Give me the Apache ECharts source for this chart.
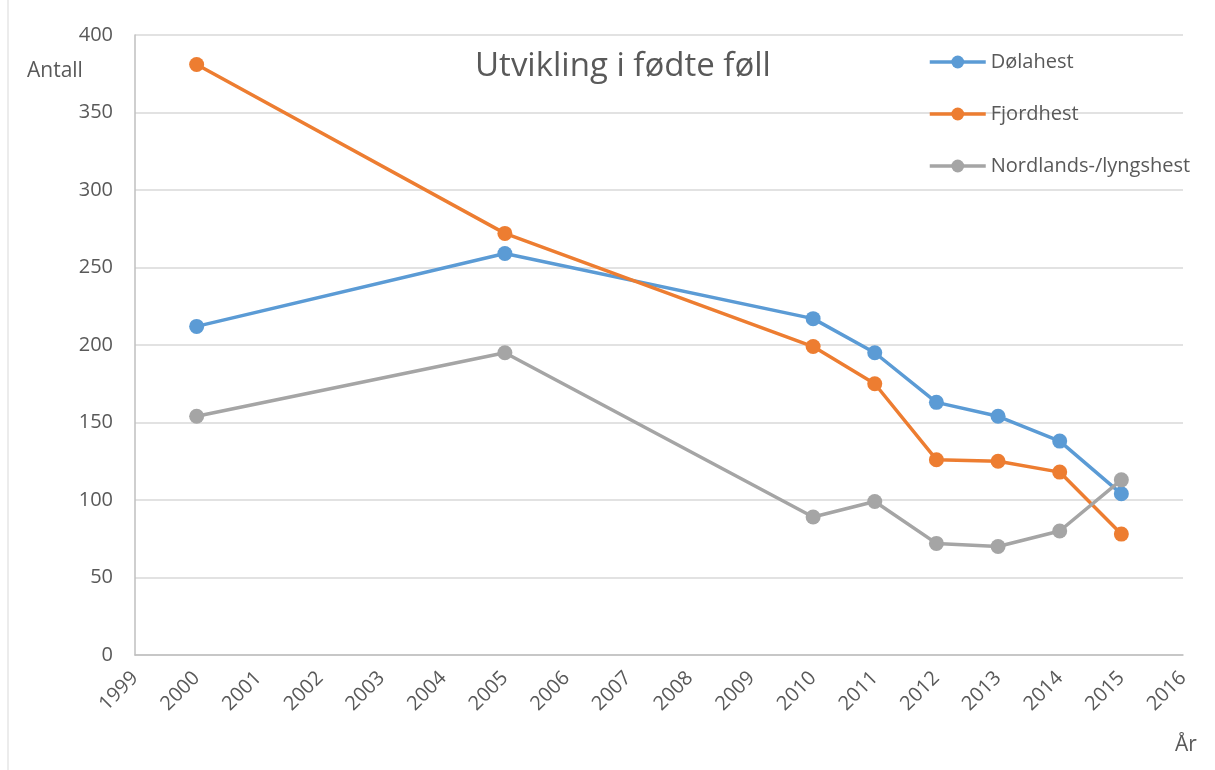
<!DOCTYPE html>
<html>
<head>
<meta charset="utf-8">
<script src="https://cdn.jsdelivr.net/npm/echarts@6/dist/echarts.min.js"></script>
<style>
  html, body { margin: 0; padding: 0; background: #fff; }
  #chart { width: 1215px; height: 770px; }
</style>
</head>
<body>
<div id="chart"></div>
<script>
const years = [2000, 2005, 2010, 2011, 2012, 2013, 2014, 2015];
const dolahest = [212, 259, 217, 195, 163, 154, 138, 104];
const fjordhest = [381, 272, 199, 175, 126, 125, 118, 78];
const nordlands = [154, 195, 89, 99, 72, 70, 80, 113];

const textColor = '#595959';
const font = 'Open Sans, Noto Sans, sans-serif';

const chart = echarts.init(document.getElementById('chart'));

const mkSeries = (name, vals, color) => ({
  name: name,
  type: 'line',
  data: years.map((y, i) => [y, vals[i]]),
  symbol: 'circle',
  symbolSize: 15,
  lineStyle: { color: color, width: 3.5 },
  itemStyle: { color: color },
  emphasis: { disabled: true }
});

chart.setOption({
  animation: false,
  title: {
    text: 'Utvikling i fødte føll',
    left: 618,
    top: 45,
    textAlign: 'center',
    textStyle: { color: textColor, fontSize: 33, fontWeight: 'normal', fontFamily: font }
  },
  legend: {
    orient: 'vertical',
    left: 923,
    top: 47,
    itemGap: 32,
    itemWidth: 56,
    itemHeight: 16,
    lineStyle: { width: 3.5 },
    textStyle: { color: textColor, fontSize: 20, fontFamily: font },
    data: ['Dølahest', 'Fjordhest', 'Nordlands-/lyngshest']
  },
  grid: { left: 135, right: 32, top: 35, bottom: 115, containLabel: false },
  xAxis: {
    type: 'value',
    min: 1999,
    max: 2016,
    interval: 1,
    axisLine: { lineStyle: { color: '#bfbfbf', width: 1.5 } },
    axisTick: { show: false },
    splitLine: { show: false },
    axisLabel: {
      rotate: 45,
      margin: 20,
      color: textColor,
      fontSize: 20,
      fontFamily: font,
      formatter: v => String(v)
    }
  },
  yAxis: {
    type: 'value',
    min: 0,
    max: 400,
    interval: 50,
    axisLine: { show: true, lineStyle: { color: '#bfbfbf', width: 1.5 } },
    axisTick: { show: false },
    splitLine: { lineStyle: { color: '#d9d9d9', width: 1.5 } },
    axisLabel: { color: textColor, fontSize: 20, fontFamily: font, margin: 22 }
  },
  series: [
    mkSeries('Dølahest', dolahest, '#5b9bd5'),
    mkSeries('Fjordhest', fjordhest, '#ed7d31'),
    mkSeries('Nordlands-/lyngshest', nordlands, '#a5a5a5')
  ],
  graphic: [
    {
      type: 'line',
      shape: { x1: 8, y1: 0, x2: 8, y2: 770 },
      style: { stroke: '#d9d9d9', lineWidth: 1 }
    },
    {
      type: 'text',
      left: 27,
      top: 61,
      style: { text: 'Antall', fill: textColor, fontSize: 21, fontFamily: font }
    },
    {
      type: 'text',
      left: 1175,
      top: 735,
      style: { text: 'År', fill: textColor, fontSize: 21, fontFamily: font }
    }
  ]
});
</script>
</body>
</html>
